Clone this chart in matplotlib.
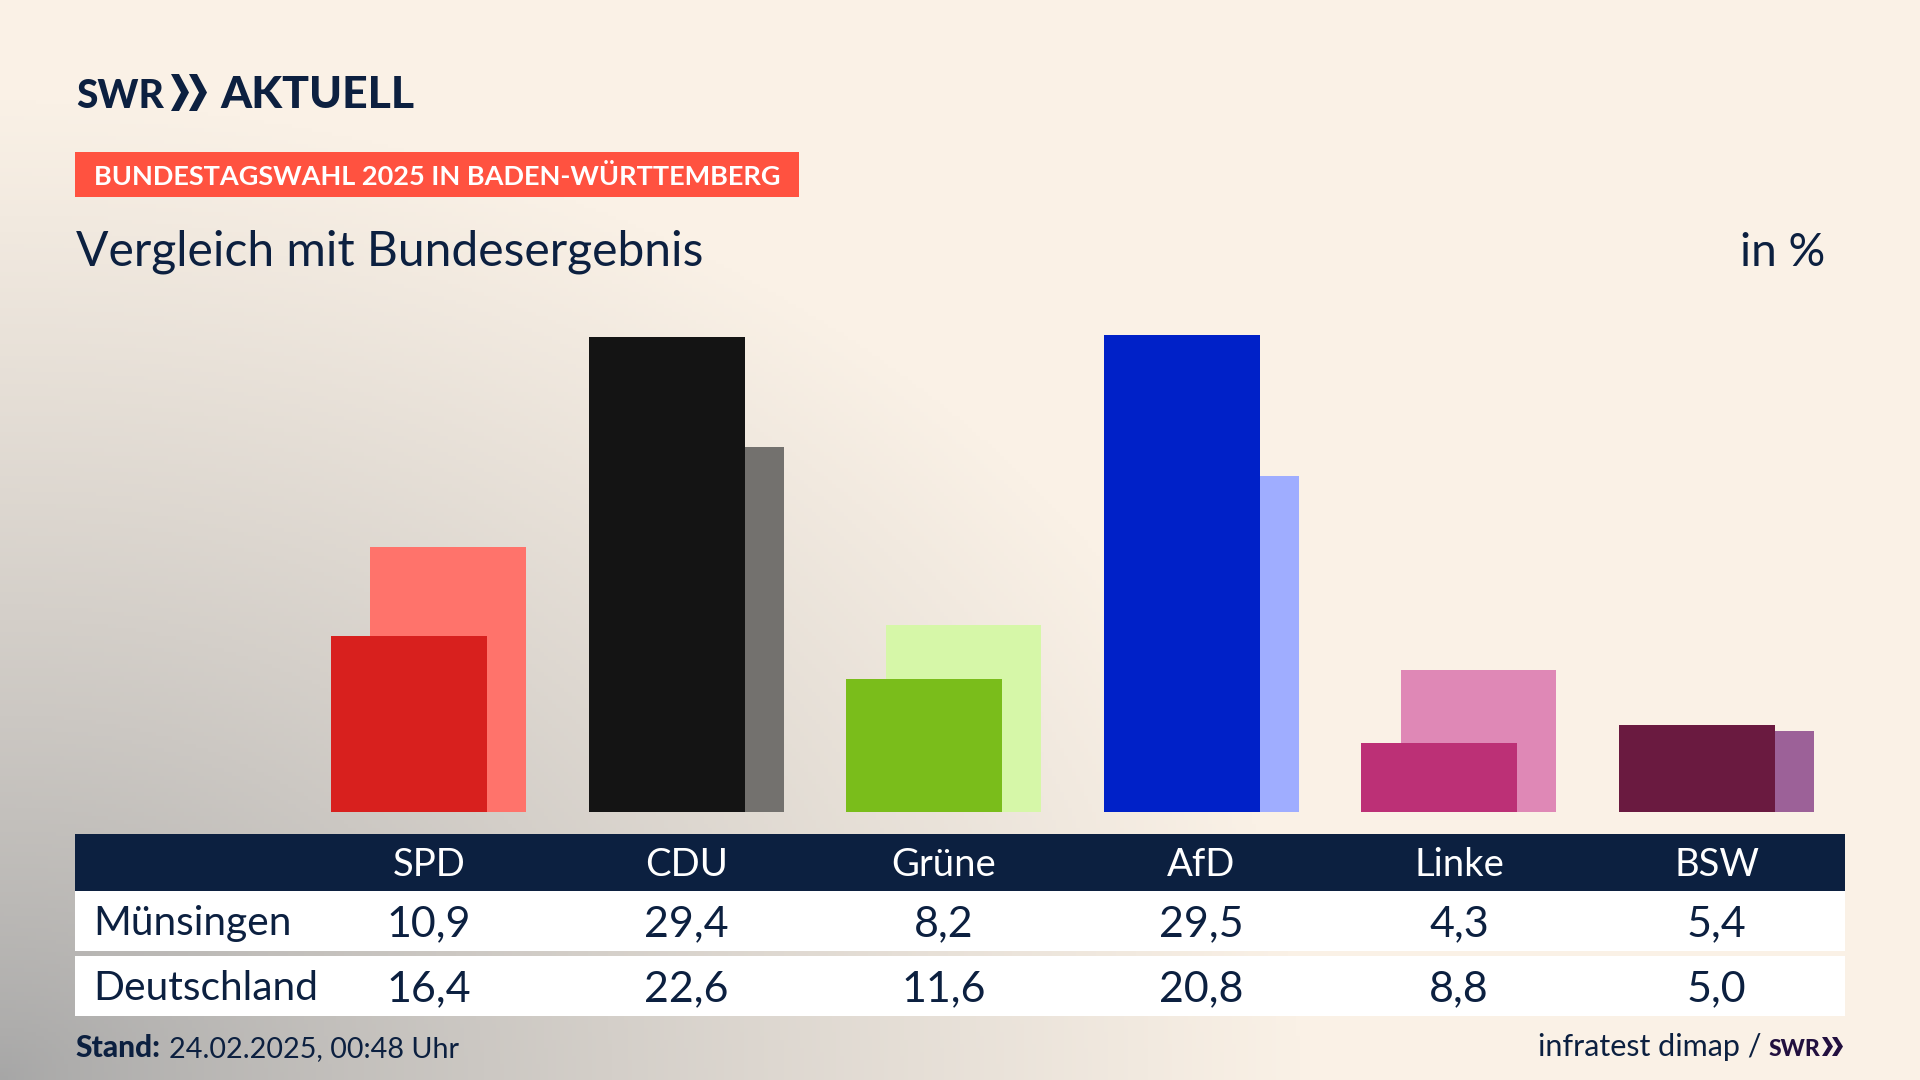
import numpy as np
import matplotlib
matplotlib.use("Agg")
import matplotlib.pyplot as plt
from matplotlib.patches import Rectangle, Polygon

# Values
parties = ["SPD", "CDU", "Grüne", "AfD", "Linke", "BSW"]
muensingen = [10.9, 29.4, 8.2, 29.5, 4.3, 5.4]
deutschland = [16.4, 22.6, 11.6, 20.8, 8.8, 5.0]
row_labels = ["Münsingen", "Deutschland"]
front_colors = ["#D8201E", "#141414", "#7ABD1B", "#0021C8", "#BC3076", "#6A1A40"]
back_colors = ["#FF736B", "#73716E", "#D6F7A8", "#9FADFF", "#DF88B6", "#9C6198"]

NAVY = "#0C2040"
W, H = 1920, 1080
plt.rcParams["font.family"] = ["Lato", "DejaVu Sans"]

fig = plt.figure(figsize=(19.2, 10.8), dpi=100)

# Full figure axes in pixel coordinates, for background, logo, banner and table
bg = fig.add_axes([0, 0, 1, 1])
bg.set_xlim(0, W)
bg.set_ylim(H, 0)
bg.axis("off")

# Grey glow from the bottom left corner into the beige
xx, yy = np.meshgrid(np.linspace(0, W, 480), np.linspace(0, H, 270))
t = np.clip(np.sqrt((xx / 1300) ** 2 + ((H - yy) / 980) ** 2), 0, 1)
t = t ** 0.8
start = np.array([0xA6, 0xA6, 0xA6]) / 255
end = np.array([0xFA, 0xF1, 0xE6]) / 255
grad = start + (end - start) * t[..., None]
bg.imshow(grad, extent=[0, W, H, 0], aspect="auto", zorder=0)


def chevron(x, y0, y1, th, d, color=NAVY):
    ym = (y0 + y1) / 2
    pts = [(x, y0), (x + th, y0), (x + th + d, ym), (x + th, y1), (x, y1), (x + d, ym)]
    return Polygon(pts, closed=True, fc=color, ec="none", zorder=3)


# Logo
bg.text(76, 108, "SWR", fontsize=28, fontweight="black", color=NAVY, va="baseline")
bg.add_patch(chevron(171, 74, 111, 8, 10))
bg.add_patch(chevron(189, 74, 111, 8, 10))
bg.text(220, 108, "AKTUELL", fontsize=32, fontweight="black", color=NAVY, va="baseline")

# Banner
bg.add_patch(Rectangle((75, 152), 724, 45, fc="#FF5240", ec="none", zorder=2))
bg.text(94, 185, "BUNDESTAGSWAHL 2025 IN BADEN-WÜRTTEMBERG", fontsize=19.5, fontweight="bold",
        color="white", va="baseline", zorder=3)

# Title line
bg.text(76, 265.5, "Vergleich mit Bundesergebnis", fontsize=34.6, color=NAVY, va="baseline")
bg.text(1825, 265.5, "in %", fontsize=33, color=NAVY, ha="right", va="baseline")

# Table
bg.add_patch(Rectangle((75, 834), 1770, 57, fc=NAVY, ec="none", zorder=2))
bg.add_patch(Rectangle((75, 891), 1770, 60, fc="white", ec="none", zorder=2))
bg.add_patch(Rectangle((75, 956), 1770, 60, fc="white", ec="none", zorder=2))

first_col = 428.75
col_step = 257.55
for i, party in enumerate(parties):
    cx = first_col + i * col_step
    bg.text(cx, 876, party, fontsize=27.5, color="white", ha="center", va="baseline", zorder=3)
    bg.text(cx, 936, f"{muensingen[i]:.1f}".replace(".", ","), fontsize=31, color=NAVY,
            ha="center", va="baseline", zorder=3)
    bg.text(cx, 1001, f"{deutschland[i]:.1f}".replace(".", ","), fontsize=31, color=NAVY,
            ha="center", va="baseline", zorder=3)
bg.text(93.5, 935, row_labels[0], fontsize=29.3, color=NAVY, va="baseline", zorder=3)
bg.text(93.5, 1000, row_labels[1], fontsize=29.3, color=NAVY, va="baseline", zorder=3)

# Footer
bg.text(75, 1057, "Stand:", fontsize=21.5, fontweight="black", color=NAVY, va="baseline")
bg.text(169, 1057, "24.02.2025, 00:48 Uhr", fontsize=20.7, color=NAVY, va="baseline")
bg.text(1761, 1056, "infratest dimap /", fontsize=22, color=NAVY, ha="right", va="baseline")
bg.text(1769, 1056, "SWR", fontsize=16.5, fontweight="black", color="#22103F", va="baseline")
bg.add_patch(chevron(1822, 1037, 1056, 5, 6, "#22103F"))
bg.add_patch(chevron(1832, 1037, 1056, 5, 6, "#22103F"))

# Bars
left = (first_col - col_step / 2) / W
right = (first_col + 5.5 * col_step) / W
base, top = 812, 300
ax = fig.add_axes([left, 1 - base / H, right - left, (base - top) / H])
ax.patch.set_alpha(0)
ax.axis("off")
ax.set_xlim(-0.5, 5.5)
ax.set_ylim(0, (base - top) / 16.16)

x = np.arange(len(parties))
ax.bar(x + 0.076, deutschland, width=0.605, color=back_colors, zorder=1)
ax.bar(x - 0.076, muensingen, width=0.605, color=front_colors, zorder=2)

fig.savefig("out.png", dpi=100)
